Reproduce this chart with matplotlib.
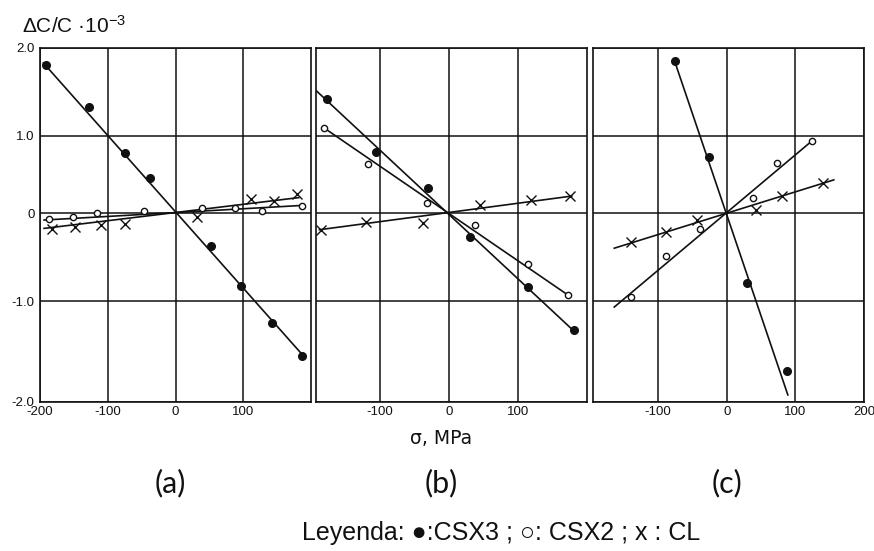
import numpy as np
import matplotlib.pyplot as plt

plt.rcParams['font.family'] = ['Liberation Sans', 'DejaVu Sans']
plt.rcParams['mathtext.default'] = 'regular'

# ---- datos (sigma en MPa, dC/C en 1e-3) ----
# panel (a)
a_csx3_x = [-191, -127, -74, -38, 52, 97, 142, 187]
a_csx3_y = [1.81, 1.33, 0.78, 0.46, -0.38, -0.83, -1.22, -1.54]
a_csx2_x = [-187, -152, -116, -46, 39, 88, 128, 187]
a_csx2_y = [-0.07, -0.05, 0.0, 0.03, 0.07, 0.06, 0.03, 0.09]
a_cl_x = [-183, -148, -110, -74, 32, 111, 145, 180]
a_cl_y = [-0.18, -0.16, -0.14, -0.12, -0.05, 0.18, 0.15, 0.25]
# rectas de ajuste (extremos)
a_fit_csx3 = ([-195, 191], [1.83, -1.56])
a_fit_csx2 = ([-194, 190], [-0.08, 0.10])
a_fit_cl = ([-194, 182], [-0.175, 0.20])

# panel (b)
b_csx3_x = [-177, -106, -30, 30, 115, 181]
b_csx3_y = [1.42, 0.79, 0.33, -0.27, -0.84, -1.29]
b_csx2_x = [-181, -117, -32, 38, 114, 172]
b_csx2_y = [1.09, 0.63, 0.13, -0.14, -0.58, -0.93]
b_cl_x = [-186, -120, -38, 45, 119, 176]
b_cl_y = [-0.19, -0.10, -0.11, 0.10, 0.17, 0.22]
b_fit_csx3 = ([-192, 183], [1.51, -1.31])
b_fit_csx2 = ([-181, 172], [1.09, -0.93])
b_fit_cl = ([-188, 178], [-0.19, 0.22])

# panel (c)
c_csx3_x = [-76, -26, 30, 88]
c_csx3_y = [1.85, 0.73, -0.79, -1.69]
c_csx2_x = [-139, -89, -39, 38, 73, 124]
c_csx2_y = [-0.95, -0.49, -0.18, 0.20, 0.645, 0.935]
c_cl_x = [-139, -88, -43, 42, 80, 140]
c_cl_y = [-0.33, -0.22, -0.08, 0.04, 0.22, 0.39]
c_fit_csx3 = ([-76, 89], [1.85, -1.93])
c_fit_csx2 = ([-164, 124], [-1.06, 0.935])
c_fit_cl = ([-164, 156], [-0.40, 0.43])

panels = [
    (a_csx3_x, a_csx3_y, a_csx2_x, a_csx2_y, a_cl_x, a_cl_y, a_fit_csx3, a_fit_csx2, a_fit_cl),
    (b_csx3_x, b_csx3_y, b_csx2_x, b_csx2_y, b_cl_x, b_cl_y, b_fit_csx3, b_fit_csx2, b_fit_cl),
    (c_csx3_x, c_csx3_y, c_csx2_x, c_csx2_y, c_cl_x, c_cl_y, c_fit_csx3, c_fit_csx2, c_fit_cl),
]
xlims = [(-200, 200), (-193, 200), (-195, 200)]
xticks = [[-200, -100, 0, 100], [-100, 0, 100], [-100, 0, 100, 200]]
yticks = [-2, -1, 0, 1, 2]
ytick_labels = ['-2.0', '-1.0', '0', '1.0', '2.0']

# el eje y del original no esta espaciado de forma uniforme
y_knots = [-2, -1, 0, 1, 2]
y_draw = [0, 101, 189, 266, 354]


def fwd(v):
    return np.interp(v, y_knots, y_draw)


def inv(v):
    return np.interp(v, y_draw, y_knots)


W, H = 874, 551
fig = plt.figure(figsize=(W / 100, H / 100), dpi=100)
lefts = [40, 316, 593]
k = '#111111'

for i, p in enumerate(panels):
    ax = fig.add_axes([lefts[i] / W, (H - 402) / H, 271 / W, 354 / H])
    ax.set_yscale('function', functions=(fwd, inv))
    ax.set_xlim(*xlims[i])
    ax.set_ylim(-2, 2)
    ax.set_xticks(xticks[i])
    ax.set_xticklabels([str(t) for t in xticks[i]])
    ax.set_yticks(yticks)
    if i == 0:
        ax.set_yticklabels(ytick_labels)
    else:
        ax.set_yticklabels([])
    ax.yaxis.set_minor_locator(plt.NullLocator())
    ax.tick_params(length=0, labelsize=9.5, colors=k, pad=3)
    ax.tick_params(axis='y', pad=4)
    ax.grid(True, color=k, lw=1.1)
    ax.set_axisbelow(True)
    for s in ax.spines.values():
        s.set_color(k)
        s.set_linewidth(1.2)

    x3, y3, x2, y2, xl, yl, f3, f2, fl = p
    for f in (f3, f2, fl):
        ax.plot(f[0], f[1], color=k, lw=1.2, zorder=3)
    ax.plot(x3, y3, 'o', ms=5.5, color=k, zorder=4)
    ax.plot(x2, y2, 'o', ms=4.5, mfc='white', mec=k, mew=1.0, zorder=4)
    ax.plot(xl, yl, 'x', ms=6.5, color=k, mew=1.0, zorder=4)

fig.text(22 / W, 1 - 26 / H, 'ΔC/C ·10$^{-3}$', fontsize=15, ha='left', va='center', color=k)
fig.text(441 / W, 1 - 438 / H, 'σ, MPa', fontsize=13.5, ha='center', va='center',
         family='DejaVu Sans', color=k)
for lab, cx in zip(['(a)', '(b)', '(c)'], [170, 441, 727]):
    fig.text(cx / W, 1 - 483 / H, lab, fontsize=22, ha='center', va='center',
             family='Lato', color=k)
fig.text(501 / W, 1 - 533 / H, 'Leyenda: ●:CSX3 ; ○: CSX2 ; x : CL', fontsize=18,
         ha='center', va='center', family=['Liberation Sans', 'DejaVu Sans'], color=k)

fig.savefig('out.png', dpi=100)
